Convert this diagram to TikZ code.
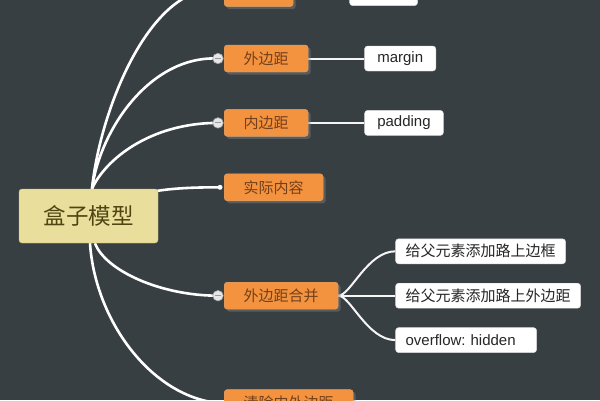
\documentclass[tikz,border=0pt]{standalone}
\usepackage{fontspec}
\setmainfont{Liberation Sans}
\newfontfamily\cjk{Noto Sans CJK SC}
\usepackage{tikz}
\usetikzlibrary{positioning,shapes,backgrounds,calc,shadows}
\definecolor{slate}{HTML}{383F42}
\definecolor{khaki}{HTML}{E9DE9C}
\definecolor{khakiedge}{HTML}{CDBE78}
\definecolor{khakitext}{HTML}{4F4512}
\definecolor{tangerine}{HTML}{F3923F}
\definecolor{tangerineedge}{HTML}{D6A274}
\definecolor{tangerinetext}{HTML}{74401A}
\definecolor{knobfill}{HTML}{E6E6E6}
\tikzstyle{root} = [rectangle, draw=khakiedge, fill=khaki, text=khakitext, %
   rounded corners=3pt, minimum width=139pt, minimum height=54pt, %
   font=\cjk\fontsize{22.5}{26}\selectfont]
\tikzstyle{topic} = [rectangle, draw=tangerineedge, fill=tangerine, text=tangerinetext, %
   rounded corners=3pt, inner xsep=19.5pt, inner ysep=0pt, minimum height=27pt, %
   font=\cjk\fontsize{15}{18}\selectfont, %
   drop shadow={shadow xshift=2.5pt, shadow yshift=-2.5pt, opacity=0.45}]
\tikzstyle{leaf} = [rectangle, draw=gray!30, fill=white, text=black!85, %
   rounded corners=3pt, inner xsep=10pt, inner ysep=0pt, minimum height=25pt, %
   font=\fontsize{15}{18}\selectfont]
\tikzstyle{knob} = [circle, draw=gray!70, fill=knobfill, minimum size=10.5pt, inner sep=0pt, line width=0.6pt]
\tikzstyle{stub} = [circle, fill=white, minimum size=5pt, inner sep=0pt]
\tikzstyle{line} = [draw, white, line width=2.6pt]
\tikzstyle{twig} = [draw, white!92!gray, line width=2pt]

\begin{document}
\begin{tikzpicture}[x=1pt, y=1pt]
   \useasboundingbox (0,0) rectangle (600,-400);

   % Root %%%%%%%%%%%%%%%%%%%%%%%%%%%%%%%%%%%%%%%%%%%%%%%%%%%%%%%%%%%%%%
      \node[root](box) at (88.5,-216) {盒子模型};

   % Topics %%%%%%%%%%%%%%%%%%%%%%%%%%%%%%%%%%%%%%%%%%%%%%%%%%%%%%%%%%%%
      \node[topic, anchor=west](margin) at (224,-58.5) {外边距};

      \node[topic, above=38pt of margin.north west, anchor=south west, minimum width=69pt, %
         minimum height=34pt](toptopic) {};

      \node[topic, below=37pt of margin.south west, anchor=north west](padding) {内边距};

      \node[topic, below=37pt of padding.south west, anchor=north west](content) {实际内容};

      \node[topic, below=81pt of content.south west, anchor=north west](collapse) {外边距合并};

      \node[topic, below=80pt of collapse.south west, anchor=north west](clearing) {清除内外边距};

   % Leaves %%%%%%%%%%%%%%%%%%%%%%%%%%%%%%%%%%%%%%%%%%%%%%%%%%%%%%%%%%%%
      \node[leaf, right=56pt of toptopic, minimum width=68pt, minimum height=32pt](topleaf) {};

      \node[leaf, right=56pt of margin, inner xsep=12.7pt](marginval) {margin};

      \node[leaf, right=56pt of padding, inner xsep=12.7pt](paddingval) {padding};

      \node[leaf, right=57pt of collapse](outer) {\cjk 给父元素添加路上外边距};

      \node[leaf, above=19pt of outer.north west, anchor=south west](border) {%
         \cjk 给父元素添加路上边框};

      \node[leaf, below=19pt of outer.south west, anchor=north west, text width=121pt, %
         align=left](overflow) {overflow:\ hidden};

   % Knobs %%%%%%%%%%%%%%%%%%%%%%%%%%%%%%%%%%%%%%%%%%%%%%%%%%%%%%%%%%%%%
      \coordinate (topknob) at ([xshift=-6pt]toptopic.west);
      \node[knob](marginknob) at ([xshift=-6pt]margin.west) {};
      \node[knob](paddingknob) at ([xshift=-6pt]padding.west) {};
      \node[knob](collapseknob) at ([xshift=-6pt]collapse.west) {};
      \node[stub](contentstub) at ([xshift=-4pt]content.west) {};
      \node[stub](clearingstub) at ([xshift=-5pt]clearing.west) {};
      \draw[gray!80, line width=1pt] ([xshift=-3pt]marginknob.center) -- ([xshift=3pt]marginknob.center);
      \draw[gray!80, line width=1pt] ([xshift=-3pt]paddingknob.center) -- ([xshift=3pt]paddingknob.center);
      \draw[gray!80, line width=1pt] ([xshift=-3pt]collapseknob.center) -- ([xshift=3pt]collapseknob.center);

   % Draw edges
      \begin{scope}[on background layer]
         \fill[slate] (0,0) rectangle (600,-400);

         \coordinate (rootup) at ([xshift=3.5pt]box.north);
         \coordinate (rootdowna) at ([xshift=6.5pt]box.south);
         \coordinate (rootdownb) at ([xshift=1.5pt]box.south);

         % Main branches
         \path [line] (rootup) .. controls +(8,79) and +(-68,5) .. (topknob);
         \path [line] (rootup) .. controls +(8,59) and +(-68,3) .. (marginknob.center);
         \path [line] (rootup) .. controls +(13,29) and +(-68,0) .. (paddingknob.center);
         \path [line] (box.center) .. controls +(41.5,26) and +(-50,0) .. (contentstub.center);
         \path [line] (rootdowna) .. controls +(10,-27) and +(-58,0) .. (collapseknob.center);
         \path [line] (rootdownb) .. controls +(5,-77) and +(-68,6.5) .. (clearingstub.center);

         % Sub branches
         \path [twig] (margin) -- (marginval);
         \path [twig] (padding) -- (paddingval);
         \path [twig] (collapse.east) .. controls +(12,0) and +(-28,0) .. (border.west);
         \path [twig] (collapse) -- (outer);
         \path [twig] (collapse.east) .. controls +(12,0) and +(-28,0) .. (overflow.west);
      \end{scope}

\end{tikzpicture}
\end{document}
